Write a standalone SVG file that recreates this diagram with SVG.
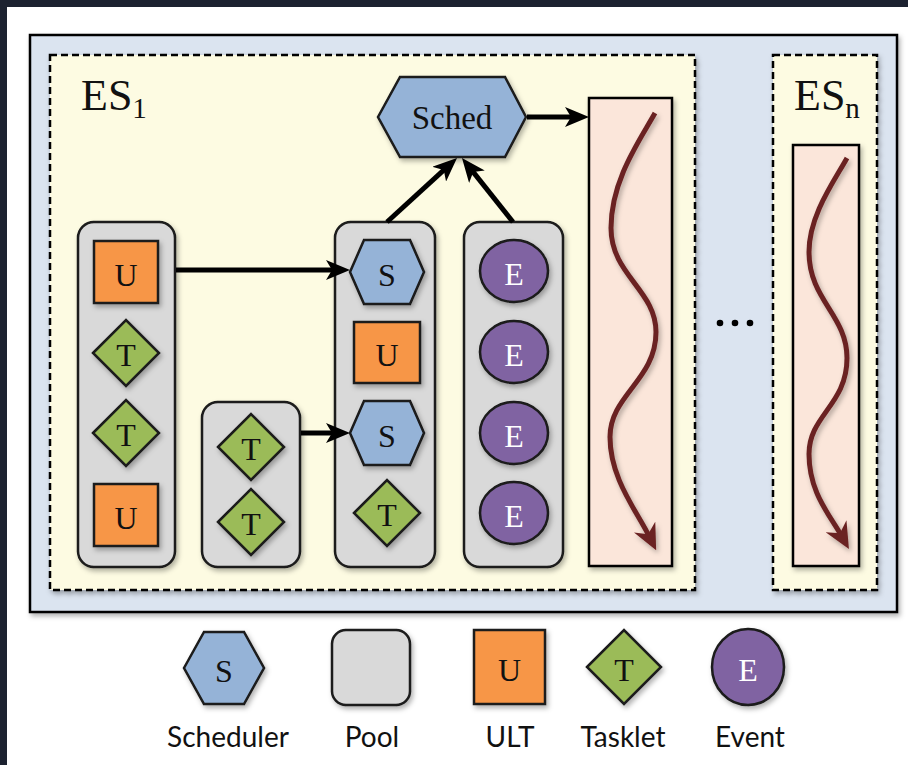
<svg xmlns="http://www.w3.org/2000/svg" width="908" height="765" viewBox="0 0 908 765">
<style>
.frame{fill:#1c2230}
.page{fill:#ffffff}
.outer{fill:#dbe4f0;stroke:#000;stroke-width:2.5}
.es{fill:#fdfbe2;stroke:#000;stroke-width:2.5;stroke-dasharray:7 4}
.pink{fill:#fbe6da;stroke:#000;stroke-width:2.5}
.pool{fill:#d9d9d9;stroke:#1a1a1a;stroke-width:2.5}
.ult{fill:#f79646;stroke:#1a1a1a;stroke-width:2.5}
.task{fill:#9bbb59;stroke:#1a1a1a;stroke-width:2.5}
.sch{fill:#95b3d7;stroke:#1a1a1a;stroke-width:2.5}
.ev{fill:#8064a2;stroke:#1a1a1a;stroke-width:2.5}
.sh{filter:url(#sh)}
.lbl{font-family:"Liberation Serif","Times New Roman",serif;font-size:32px;fill:#111;text-anchor:middle}
.lblw{font-family:"Liberation Serif","Times New Roman",serif;font-size:32px;fill:#fff;text-anchor:middle}
.es-t{font-family:"Liberation Serif","Times New Roman",serif;font-size:44px;fill:#111}
.es-s{font-size:29px}
.leg{font-family:Lato,"Open Sans",sans-serif;font-size:28px;fill:#111;text-anchor:middle}
.conn{stroke:#000;stroke-width:5;fill:none;marker-end:url(#ah)}
.wave{stroke:#6b2222;stroke-width:5;fill:none;marker-end:url(#wh)}
</style>
<defs>
<filter id="sh" x="-30%" y="-30%" width="160%" height="160%">
<feDropShadow dx="2" dy="3" stdDeviation="2.5" flood-color="#000" flood-opacity="0.3"/>
</filter>
<marker id="ah" viewBox="0 0 24 20" refX="10" refY="10" markerWidth="24" markerHeight="20" markerUnits="userSpaceOnUse" orient="auto">
<path d="M0,0 L24,10 L0,20 L6,10 z" fill="#000"/>
</marker>
<marker id="wh" viewBox="0 0 26 24" refX="10" refY="12" markerWidth="26" markerHeight="24" markerUnits="userSpaceOnUse" orient="auto">
<path d="M0,0 L26,12 L0,24 L8,12 z" fill="#6b2222"/>
</marker>
</defs>

<rect class="frame" x="0" y="0" width="908" height="765"/>
<rect class="page" x="7" y="7" width="901" height="758"/>

<g id="system">
<rect class="outer sh" x="30" y="35" width="867" height="577"/>
</g>

<g id="es1">
<rect class="es sh" x="50" y="55" width="645" height="535"/>
<text class="es-t" x="81" y="110">ES<tspan class="es-s" dy="8">1</tspan></text>
</g>

<g id="esn">
<rect class="es sh" x="773" y="55" width="104" height="535"/>
<text class="es-t" x="794" y="110">ES<tspan class="es-s" dy="8">n</tspan></text>
</g>

<g id="dots">
<circle cx="720" cy="323" r="3.3" fill="#000"/>
<circle cx="735" cy="323" r="3.3" fill="#000"/>
<circle cx="750" cy="323" r="3.3" fill="#000"/>
</g>

<g id="stream1">
<rect class="pink sh" x="589" y="98" width="83" height="468"/>
<path class="wave sh" d="M655,113 C640,140 611,180 611,228 C611,275 656,290 656,332 C656,380 610,395 610,437 C610,478 636,510 649,536"/>
</g>

<g id="streamn">
<rect class="pink sh" x="793" y="145" width="66" height="421"/>
<path class="wave sh" d="M847,158 C835,180 809,215 809,252 C809,300 847,315 847,358 C847,405 809,415 809,454 C809,492 829,514 841,535"/>
</g>

<g id="sched">
<polygon class="sch sh" points="378,117 400,77 505,77 526,117 505,157 400,157"/>
<text class="lbl" x="452" y="129" style="font-size:33px">Sched</text>
</g>

<g id="poolA">
<rect class="pool sh" x="78" y="222" width="97" height="345" rx="16"/>
<rect class="ult sh" x="94" y="241" width="64" height="62"/>
<text class="lbl" x="126" y="286">U</text>
<polygon class="task sh" points="93,353 126,320 159,353 126,386"/>
<text class="lbl" x="126" y="366">T</text>
<polygon class="task sh" points="93,433 126,400 159,433 126,466"/>
<text class="lbl" x="126" y="446">T</text>
<rect class="ult sh" x="94" y="484" width="64" height="62"/>
<text class="lbl" x="126" y="529">U</text>
</g>

<g id="poolB">
<rect class="pool sh" x="202" y="402" width="98" height="165" rx="16"/>
<polygon class="task sh" points="218,447 251,414 284,447 251,480"/>
<text class="lbl" x="251" y="460">T</text>
<polygon class="task sh" points="218,522 251,489 284,522 251,555"/>
<text class="lbl" x="251" y="535">T</text>
</g>

<g id="poolC">
<rect class="pool sh" x="335" y="222" width="100" height="345" rx="16"/>
<polygon class="sch sh" points="350,272 364,240 410,240 424,272 410,304 364,304"/>
<text class="lbl" x="387" y="286">S</text>
<rect class="ult sh" x="354" y="322" width="66" height="61"/>
<text class="lbl" x="387" y="366">U</text>
<polygon class="sch sh" points="350,433 364,401 410,401 424,433 410,465 364,465"/>
<text class="lbl" x="387" y="447">S</text>
<polygon class="task sh" points="354,513 387,480 420,513 387,546"/>
<text class="lbl" x="387" y="526">T</text>
</g>

<g id="poolD">
<rect class="pool sh" x="464" y="222" width="99" height="345" rx="16"/>
<ellipse class="ev sh" cx="514" cy="271" rx="34" ry="31"/>
<text class="lblw" x="514" y="285">E</text>
<ellipse class="ev sh" cx="514" cy="352" rx="34" ry="31"/>
<text class="lblw" x="514" y="366">E</text>
<ellipse class="ev sh" cx="514" cy="433" rx="34" ry="31"/>
<text class="lblw" x="514" y="447">E</text>
<ellipse class="ev sh" cx="514" cy="513" rx="34" ry="31"/>
<text class="lblw" x="514" y="527">E</text>
</g>

<g id="connectors">
<line class="conn" x1="527" y1="117" x2="575" y2="117"/>
<line class="conn" x1="387" y1="222" x2="446.7" y2="167.4"/>
<line class="conn" x1="513" y1="222" x2="470.7" y2="168.9"/>
<line class="conn" x1="176" y1="270" x2="336" y2="270"/>
<line class="conn" x1="301" y1="433" x2="336" y2="433"/>
</g>

<g id="legend-scheduler">
<polygon class="sch sh" points="184,668 204,632 244,632 264,668 244,704 204,704"/>
<text class="lbl" x="224" y="682">S</text>
<text class="leg" x="228" y="747">Scheduler</text>
</g>
<g id="legend-pool">
<rect class="pool sh" x="332" y="630" width="78" height="75" rx="14"/>
<text class="leg" x="372" y="747">Pool</text>
</g>
<g id="legend-ult">
<rect class="ult sh" x="474" y="630" width="71" height="74"/>
<text class="lbl" x="509.5" y="681">U</text>
<text class="leg" x="510" y="747">ULT</text>
</g>
<g id="legend-tasklet">
<polygon class="task sh" points="587,667 624,630 661,667 624,704"/>
<text class="lbl" x="624" y="681">T</text>
<text class="leg" x="623" y="747">Tasklet</text>
</g>
<g id="legend-event">
<ellipse class="ev sh" cx="748" cy="667" rx="36" ry="38"/>
<text class="lblw" x="748" y="681">E</text>
<text class="leg" x="750" y="747">Event</text>
</g>
</svg>
